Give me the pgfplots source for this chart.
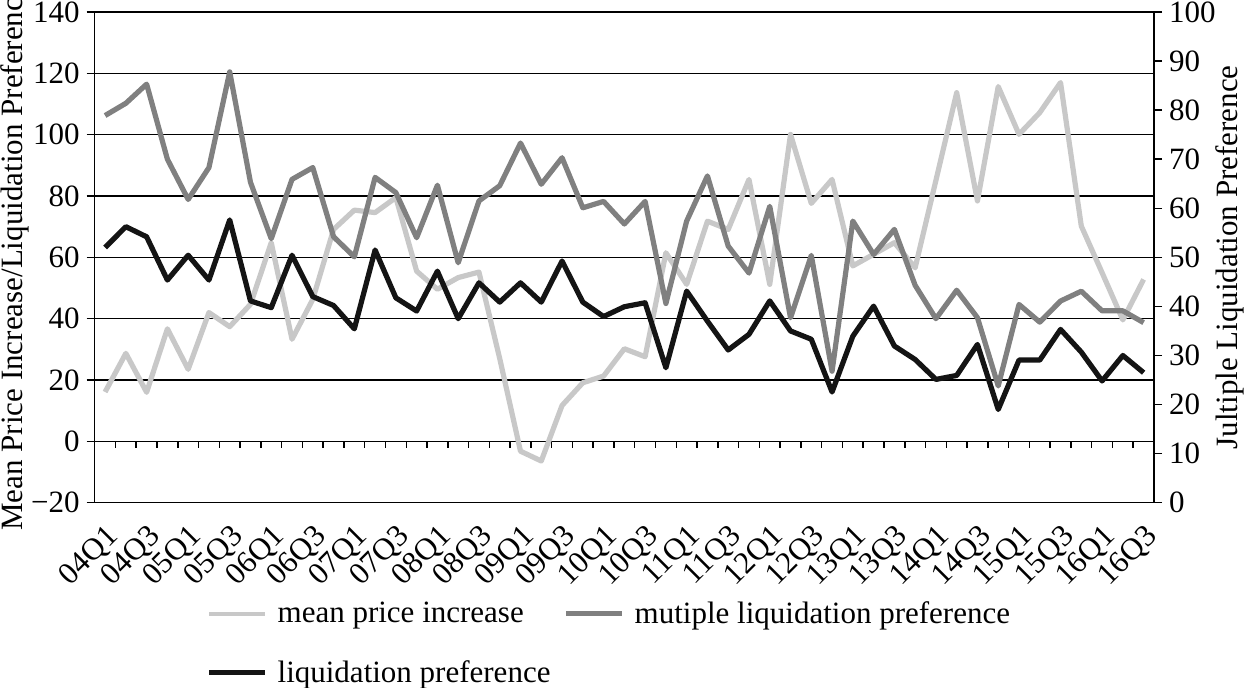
\documentclass[border=0pt]{standalone}
\usepackage{fontspec}
\setmainfont{Liberation Serif}
\usepackage{pgfplots}
\usepackage{pgfplotstable}
\pgfplotsset{compat=1.18}

\definecolor{mpicol}{RGB}{200,200,200}
\definecolor{mlpcol}{RGB}{128,128,128}
\definecolor{lpcol}{RGB}{20,20,20}

% q = quarter index (0 = 04Q1), mpi and lp on left axis, mlp on right axis
\pgfplotstableread{
q  mpi    mlp   lp
0  16.1   78.9  63.2
1  28.7   81.4  70.0
2  16.0   85.3  66.7
3  36.7   70.0  52.6
4  23.5   61.8  60.7
5  42.0   68.3  52.6
6  37.4   87.8  72.2
7  44.7   65.3  45.8
8  64.8   53.8  43.6
9  33.3   65.9  60.7
10 46.3   68.3  47.2
11 69.1   54.2  44.3
12 75.4   50.1  36.7
13 74.6   66.3  62.4
14 79.5   63.2  46.8
15 55.5   54.0  42.5
16 49.6   64.7  55.5
17 53.4   48.9  40.0
18 55.2   61.5  51.7
19 27.0   64.6  45.4
20 -3.2   73.3  51.7
21 -6.4   64.9  45.4
22 11.7   70.3  58.8
23 19.1   60.1  45.4
24 21.3   61.4  40.7
25 30.2   56.8  43.9
26 27.6   61.4  45.2
27 61.5   40.6  24.0
28 51.2   57.4  49.0
29 71.8   66.6  39.2
30 69.1   52.3  29.8
31 85.4   46.8  34.9
32 51.2   60.4  45.8
33 100.1  37.7  36.0
34 77.6   50.4  33.3
35 85.4   26.8  16.1
36 57.2   57.4  34.3
37 61.0   50.6  44.1
38 64.8   55.7  31.1
39 56.6   44.3  26.7
40 85.1   37.5  20.2
41 113.7  43.3  21.5
42 78.4   37.7  31.6
43 115.7  23.8  10.4
44 100.1  40.4  26.5
45 107.2  36.8  26.5
46 117.0  41.1  36.5
47 70.2   43.1  29.1
48 55.0   39.1  19.7
49 39.6   39.1  28.0
50 52.8   36.7  22.4
}\vcdata

\begin{document}
\begin{tikzpicture}[font=\fontsize{15.5}{18}\selectfont]
\pgfplotsset{
  base/.style={
    scale only axis, width=529.65pt, height=245.35pt,
    xmin=-0.5, xmax=50.5,
    /pgf/number format/assume math mode=true,
    tick align=outside, major tick length=4pt,
    every tick/.style={black, line width=0.75pt},
    axis line style={line width=0.75pt},
    tick label style={font=\fontsize{15.5}{18}\selectfont},
    label style={font=\fontsize{15.5}{18}\selectfont},
  },
  ser/.style={line width=2.6pt, line join=round},
}
% tick marks hanging from the zero line (axis box starts at y = 0)
\begin{axis}[base, at={(0pt,30.67pt)}, height=214.68pt,
  ymin=0, ymax=140,
  axis x line=bottom, axis y line=none,
  xtick align=outside,
  x axis line style={draw=none},
  xtick={0.5,1.5,...,49.5}, xticklabels={}, ytick=\empty,
  major tick length=3.2pt]
\end{axis}

\begin{axis}[base, ymin=-20, ymax=140,
  ytick={-20,0,...,140},
  yticklabels={−20,0,20,40,60,80,100,120,140},
  ytick pos=left,
  ymajorgrids, grid style={black, line width=0.75pt},
  xtick={0,2,...,50},
  xticklabels={04Q1,04Q3,05Q1,05Q3,06Q1,06Q3,07Q1,07Q3,08Q1,08Q3,09Q1,09Q3,10Q1,10Q3,11Q1,11Q3,12Q1,12Q3,13Q1,13Q3,14Q1,14Q3,15Q1,15Q3,16Q1,16Q3},
  xtick style={draw=none},
  x tick label style={yshift=-4.5pt, rotate=45, anchor=north east, inner sep=1pt},
  ylabel shift=-6pt,
  ylabel={Mean Price Increase/Liquidation Preference}]
\coordinate (sw) at (rel axis cs:0,0);
\addplot[ser, mpicol] table[x=q, y=mpi] {\vcdata};
\addplot[ser, lpcol] table[x=q, y=lp] {\vcdata};
\end{axis}

\begin{axis}[base, ymin=0, ymax=100,
  ytick={0,10,...,100},
  axis y line*=right, axis x line=none,
  ylabel shift=-7pt,
  ylabel={Jultiple Liquidation Preference},
  legend columns=2,
  legend cell align=left,
  legend image code/.code={\draw[#1] (0pt,0pt) -- (28pt,0pt); \path (31pt,0pt);},
  legend style={draw=none, fill=none, at={(axis description cs:0.1,-0.184)},
    anchor=north west, row sep=13pt,
    /tikz/every even column/.append style={column sep=4.5pt},
    font=\fontsize{15.5}{18}\selectfont}]
\addlegendimage{mpicol, line width=2.3pt}
\addlegendentry{mean price increase}
\addplot[ser, mlpcol] table[x=q, y=mlp] {\vcdata};
\addlegendentry{mutiple liquidation preference}
\addlegendimage{lpcol, line width=2.3pt}
\addlegendentry{liquidation preference}
\end{axis}

\pgfresetboundingbox
\path ([shift={(-47.35pt,-92.15pt)}]sw) rectangle ([shift={(575.65pt,251.35pt)}]sw);
\end{tikzpicture}
\end{document}
